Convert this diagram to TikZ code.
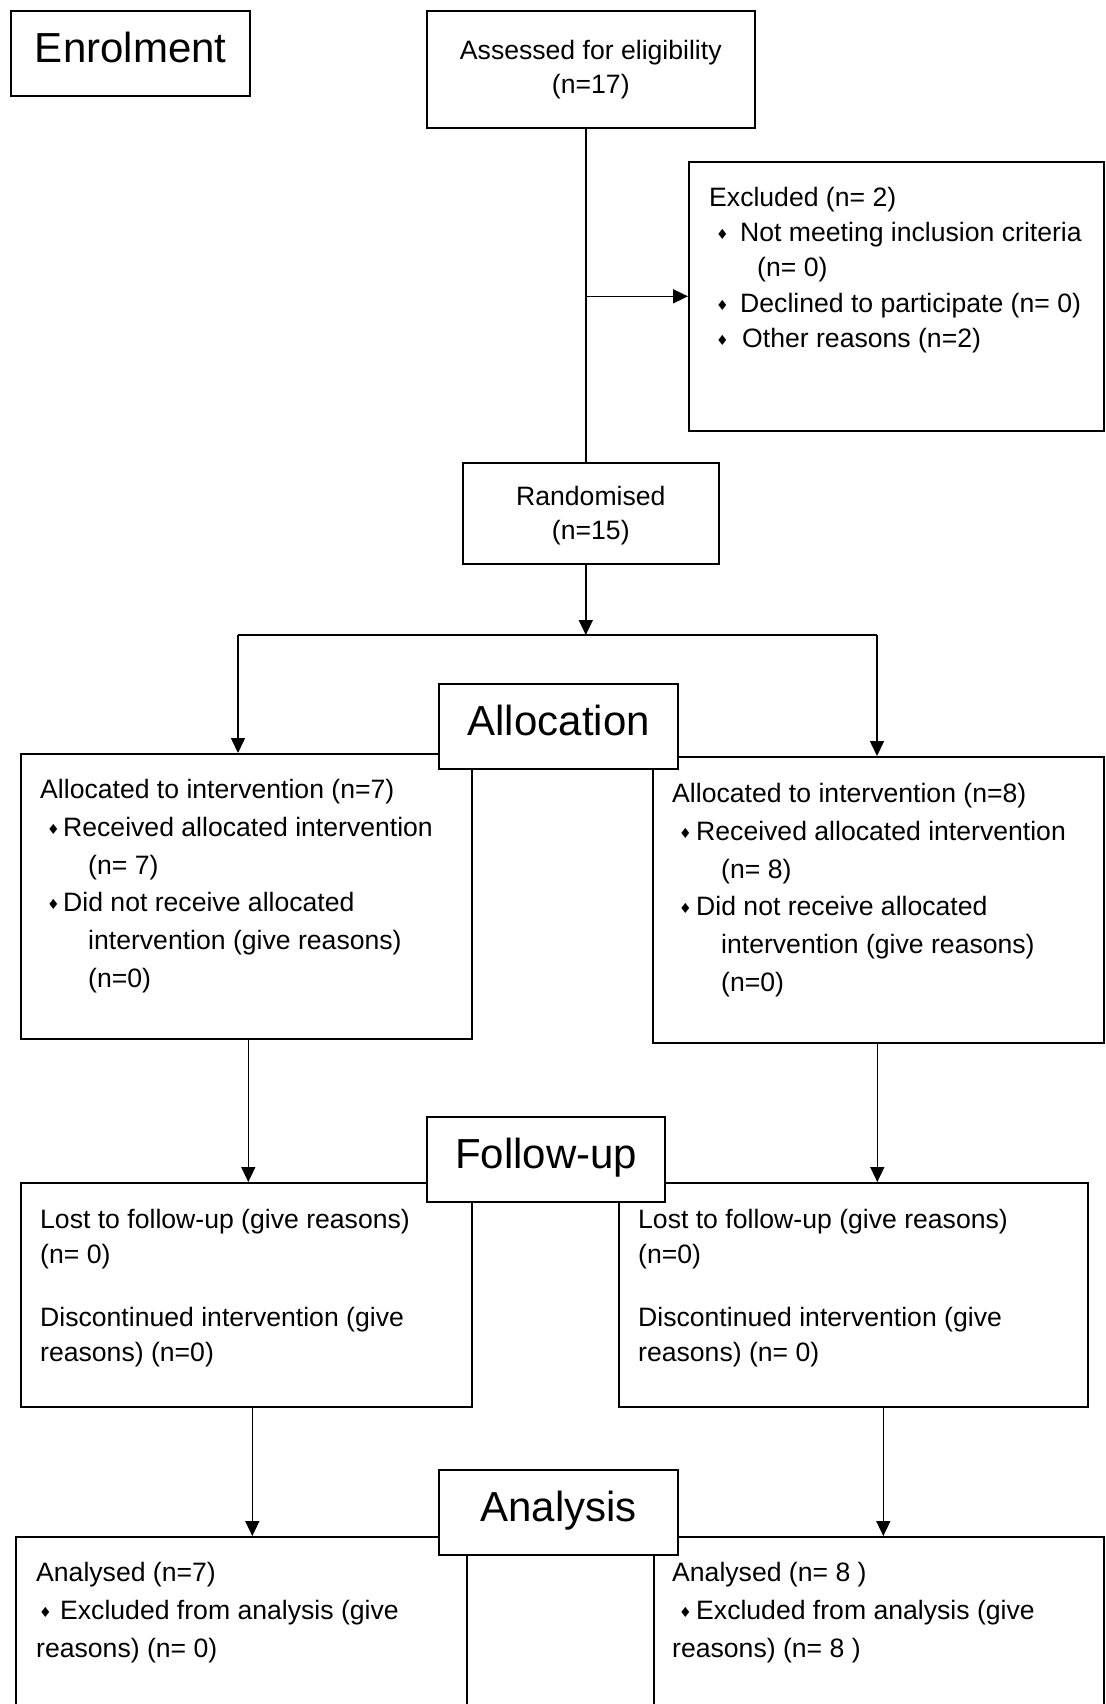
\documentclass[tikz,border=0pt]{standalone}
\usepackage{fontspec}
\setmainfont{Liberation Sans}
\newfontfamily\symfont{DejaVu Sans}
\usepackage{tikz}
\usetikzlibrary{arrows.meta}

\newcommand{\dia}[2]{\makebox[#2pt][l]{\hspace*{#1pt}\raisebox{2pt}{\symfont\fontsize{14}{14}\selectfont ♦}}}

\begin{document}
\begin{tikzpicture}[
      x=1pt, y=-1pt,
      mybox/.style={
         draw=black,
         line width=1.6pt,
         anchor=north west,
         inner sep=0pt},
      myhead/.style={
         draw=black,
         line width=2.4pt,
         fill=white,
         anchor=north west,
         minimum width=239pt,
         minimum height=85pt,
         text depth=13pt,
         font=\fontsize{42}{42}\selectfont},
      mytext/.style={
         anchor=north west,
         inner sep=0pt,
         align=left,
         font=\fontsize{26.6}{37.8}\selectfont},
      mycenter/.style={mybox, anchor=north west, align=center, font=\fontsize{26.6}{34}\selectfont},
      myline/.style={line width=1.6pt},
      myarrow/.style={line width=1.6pt, -{Triangle[length=15pt,width=14pt]}}
      ]
      \useasboundingbox (0, 0) rectangle (1105, 1704);
      \clip (0, 0) rectangle (1105, 1704);

      \node[myhead] at (10, 10) (enrol) {Enrolment};
      \node[mycenter, minimum width=328pt, minimum height=117pt] at (426, 10) (assess) {Assessed for eligibility\\(n=17)};
      \node[mybox, minimum width=415pt, minimum height=269pt] at (688, 161) (excl) {};
      \node[mytext, font=\fontsize{26.6}{35.2}\selectfont] at (709, 187) (exclTxt) {Excluded (n= 2)\\
         \dia{7}{31}Not meeting inclusion criteria\\
         \hspace*{48pt}(n= 0)\\
         \dia{7}{31}Declined to participate (n= 0)\\
         \dia{7}{33}Other reasons (n=2)};
      \node[mycenter, minimum width=256pt, minimum height=101pt, text depth=0pt] at (462, 462) (rand) {Randomised\\(n=15)};

      \node[mybox, minimum width=451pt, minimum height=285pt] at (20, 753) (allocL) {};
      \node[mybox, minimum width=451pt, minimum height=286pt] at (652, 756) (allocR) {};
      \node[myhead] at (438, 683) (alloc) {Allocation};
      \node[mytext] at (40, 779) (allocLTxt) {Allocated to intervention (n=7)\\
         \dia{7}{23}Received allocated intervention\\
         \hspace*{48pt}(n= 7)\\
         \dia{7}{23}Did not receive allocated\\
         \hspace*{48pt}intervention (give reasons)\\
         \hspace*{48pt}(n=0)};
      \node[mytext] at (672, 783) (allocRTxt) {Allocated to intervention (n=8)\\
         \dia{7}{24}Received allocated intervention\\
         \hspace*{49pt}(n= 8)\\
         \dia{7}{24}Did not receive allocated\\
         \hspace*{49pt}intervention (give reasons)\\
         \hspace*{49pt}(n=0)};

      \node[mybox, minimum width=451pt, minimum height=224pt] at (20, 1182) (folL) {};
      \node[mybox, minimum width=469pt, minimum height=224pt] at (618, 1182) (folR) {};
      \node[myhead, minimum width=238pt] at (426, 1116) (folup) {Follow-up};
      \node[mytext, font=\fontsize{26.6}{35}\selectfont] at (40, 1209) (folLTxt) {Lost to follow-up (give reasons)\\
         (n= 0)\\[28pt]
         Discontinued intervention (give\\
         reasons) (n=0)};
      \node[mytext, font=\fontsize{26.6}{35}\selectfont] at (638, 1209) (folRTxt) {Lost to follow-up (give reasons)\\
         (n=0)\\[28pt]
         Discontinued intervention (give\\
         reasons) (n= 0)};

      \node[mybox, minimum width=451pt, minimum height=300pt] at (15, 1536) (anaL) {};
      \node[mybox, minimum width=450pt, minimum height=300pt] at (653, 1536) (anaR) {};
      \node[myhead] at (438, 1469) (analysis) {Analysis};
      \node[mytext] at (36, 1562) (anaLTxt) {Analysed (n=7)\\
         \dia{3}{24}Excluded from analysis (give\\
         reasons) (n= 0)};
      \node[mytext] at (672, 1562) (anaRTxt) {Analysed (n= 8 )\\
         \dia{7}{24}Excluded from analysis (give\\
         reasons) (n= 8 )};

      % enrolment
      \draw[myline] ([xshift=-5pt]assess.south) -- ([xshift=-5pt]rand.north);
      \draw[myarrow] ([xshift=-5pt]assess.south |- excl.west) -- (excl.west);

      % allocation split
      \coordinate (splitL) at (238, 635);
      \coordinate (splitR) at (877, 635);
      \draw[myarrow] ([xshift=-5pt]rand.south) -- ([xshift=-5pt]rand.south |- splitL);
      \draw[myline] (splitL) -- (splitR);
      \draw[myarrow] (splitL) -- (splitL |- allocL.north);
      \draw[myarrow] (splitR) -- (splitR |- allocR.north);

    \foreach \src/\dst/\dx in {% from box/to box/shift
      allocL/folL/2,
      allocR/folR/-1,
      folL/anaL/6,
      folR/anaR/30
      }
       \draw[myarrow] ([xshift=\dx pt]\src.south) -- ([xshift=\dx pt]\src.south |- \dst.north);

    \end{tikzpicture}
\end{document}
